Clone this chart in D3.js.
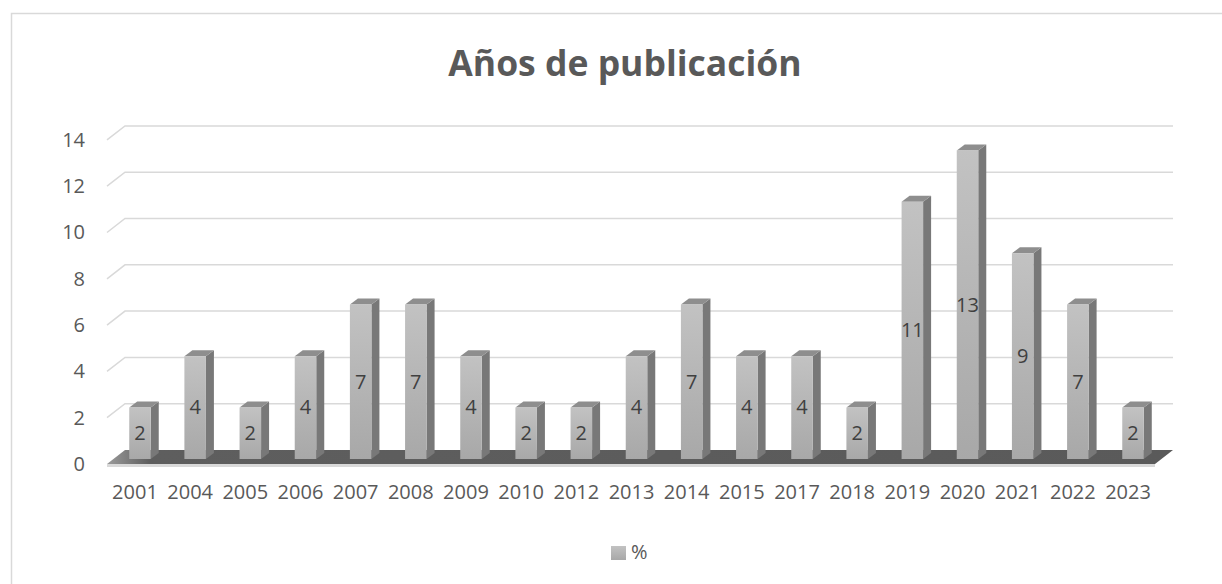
<!DOCTYPE html>
<html lang="es">
<head>
<meta charset="UTF-8" />
<title>Años de publicación</title>
<script src="https://cdn.jsdelivr.net/npm/d3@7"></script>
<style>
  body { margin: 0; background: #fff; }
  svg { display: block; font-family: "Open Sans", "DejaVu Sans", sans-serif; }
</style>
</head>
<body>
<svg id="chart" width="1222" height="584"></svg>
<script>
  // data (percent of publications per year)
  const years = ["2001", "2004", "2005", "2006", "2007", "2008", "2009", "2010", "2012", "2013",
    "2014", "2015", "2017", "2018", "2019", "2020", "2021", "2022", "2023"];
  const values = [2.22, 4.44, 2.22, 4.44, 6.67, 6.67, 4.44, 2.22, 2.22, 4.44,
    6.67, 4.44, 4.44, 2.22, 11.11, 13.33, 8.89, 6.67, 2.22];
  const yTicks = [0, 2, 4, 6, 8, 10, 12, 14];
  const seriesName = "%";

  const svg = d3.select("#chart");

  // plot geometry (3D look)
  const backBase = 450, frontBase = 459, floorFront = 464;
  const wallLeft = 125, wallRight = 1173, depthX = 18, depthY = 14;
  const barDx = 8, barDy = 6;

  const x = d3.scaleBand().domain(years).range([112.4, 1160.6]).padding(0);
  const h = d3.scaleLinear().domain([0, 14]).range([0, 324.1]);
  const barW = x.bandwidth() * 0.39;
  const cx = d => x(d) + x.bandwidth() / 2;

  // gradients
  const defs = svg.append("defs");
  const gFront = defs.append("linearGradient").attr("id", "front")
    .attr("x1", 0).attr("y1", 0).attr("x2", 0).attr("y2", 1);
  gFront.append("stop").attr("offset", "0%").attr("stop-color", "#c2c2c2");
  gFront.append("stop").attr("offset", "100%").attr("stop-color", "#a8a8a8");
  const gFloor = defs.append("linearGradient").attr("id", "floor")
    .attr("x1", 0).attr("y1", 0).attr("x2", 1).attr("y2", 0);
  gFloor.append("stop").attr("offset", "0%").attr("stop-color", "#9a9a9a");
  gFloor.append("stop").attr("offset", "4%").attr("stop-color", "#5e5e5e");
  gFloor.append("stop").attr("offset", "100%").attr("stop-color", "#5a5a5a");

  // chart border
  svg.append("rect")
    .attr("x", 11.5).attr("y", 13.5)
    .attr("width", 1300).attr("height", 700)
    .attr("fill", "#fff").attr("stroke", "#d9d9d9").attr("stroke-width", 1.5);

  // title
  svg.append("text")
    .attr("x", 625).attr("y", 76)
    .attr("text-anchor", "middle")
    .style("font-size", "35.5px").style("font-weight", "bold")
    .attr("fill", "#595959")
    .text("Años de publicación");

  // gridlines on back + side wall
  svg.append("g").selectAll("polyline")
    .data(yTicks.filter(v => v > 0))
    .join("polyline")
    .attr("points", v => {
      const by = backBase - h(v);
      return [[wallLeft - depthX, by + depthY], [wallLeft, by], [wallRight, by]].join(" ");
    })
    .attr("fill", "none").attr("stroke", "#d9d9d9").attr("stroke-width", 1.5);

  // y labels
  svg.append("g").selectAll("text")
    .data(yTicks)
    .join("text")
    .attr("x", 85)
    .attr("y", v => backBase - h(v) + depthY + 1.5)
    .attr("text-anchor", "end").attr("dominant-baseline", "middle")
    .attr("fill", "#595959").style("font-size", "20px")
    .text(v => v);

  // floor
  svg.append("polygon")
    .attr("points", [[wallLeft, backBase], [wallRight, backBase],
      [wallRight - depthX, floorFront], [wallLeft - depthX, floorFront]].join(" "))
    .attr("fill", "url(#floor)");
  svg.append("polygon")
    .attr("points", [[wallLeft - depthX, floorFront], [wallRight - depthX, floorFront],
      [wallRight - depthX, floorFront + 3], [wallLeft - depthX, floorFront + 3]].join(" "))
    .attr("fill", "#d9d9d9");

  // bars
  const bars = svg.append("g").selectAll("g")
    .data(years.map((d, i) => ({ year: d, v: values[i] })))
    .join("g");

  bars.append("polygon") // side
    .attr("points", d => {
      const x1 = cx(d.year) + barW / 2, top = frontBase - h(d.v);
      return [[x1, frontBase], [x1, top], [x1 + barDx, top - barDy], [x1 + barDx, frontBase - barDy]].join(" ");
    })
    .attr("fill", "#787878");
  bars.append("polygon") // top
    .attr("points", d => {
      const x0 = cx(d.year) - barW / 2, x1 = x0 + barW, top = frontBase - h(d.v);
      return [[x0, top], [x1, top], [x1 + barDx, top - barDy], [x0 + barDx, top - barDy]].join(" ");
    })
    .attr("fill", "#8e8e8e");
  bars.append("rect") // front
    .attr("x", d => cx(d.year) - barW / 2)
    .attr("y", d => frontBase - h(d.v))
    .attr("width", barW)
    .attr("height", d => h(d.v))
    .attr("fill", "url(#front)");

  // data labels
  bars.append("text")
    .attr("x", d => cx(d.year))
    .attr("y", d => frontBase - h(d.v) / 2 + 1.5)
    .attr("text-anchor", "middle").attr("dominant-baseline", "middle")
    .attr("fill", "#404040").style("font-size", "20px")
    .text(d => Math.round(d.v));

  // x labels
  svg.append("g").selectAll("text")
    .data(years)
    .join("text")
    .attr("x", d => cx(d) - 5)
    .attr("y", 494)
    .attr("text-anchor", "middle").attr("dominant-baseline", "middle")
    .attr("fill", "#595959").style("font-size", "20px")
    .text(d => d);

  // legend
  svg.append("rect")
    .attr("x", 611).attr("y", 546).attr("width", 15).attr("height", 14)
    .attr("fill", "url(#front)");
  svg.append("text")
    .attr("x", 631).attr("y", 554)
    .attr("dominant-baseline", "middle")
    .attr("fill", "#595959").style("font-size", "20px")
    .text(seriesName);
</script>
</body>
</html>
